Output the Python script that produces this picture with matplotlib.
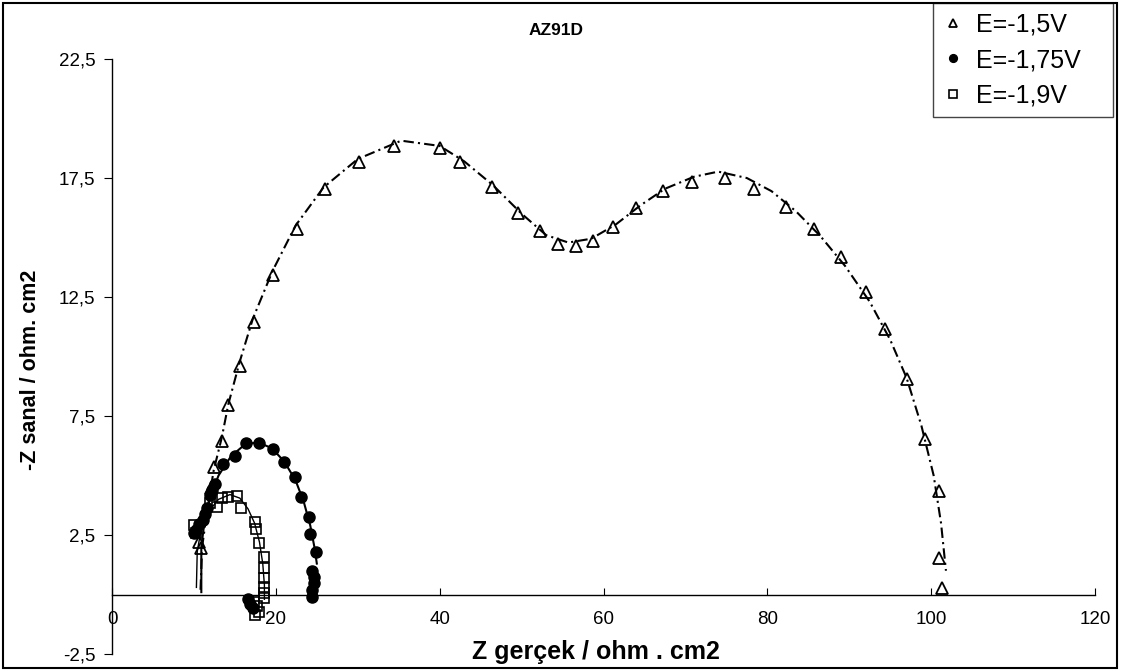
import matplotlib
matplotlib.use('Agg')
import matplotlib.pyplot as plt
from matplotlib.patches import Rectangle
from matplotlib.ticker import FuncFormatter

plt.rcParams['font.family'] = ['Liberation Sans', 'DejaVu Sans']

# measured points, E=-1.5V
z1_re = [10.6, 10.8, 12.1, 12.4, 13.4, 14.2, 15.6, 17.3, 19.7, 22.6, 26.0, 30.1, 34.4,
         40.0, 42.5, 46.4, 49.5, 52.2, 54.4, 56.6, 58.7, 61.2, 64.0, 67.2, 70.8, 74.8,
         78.4, 82.3, 85.7, 89.0, 92.0, 94.4, 97.1, 99.3, 100.9, 101.0, 101.3]
z1_im = [2.2, 1.95, 4.47, 5.35, 6.45, 7.97, 9.62, 11.47, 13.43, 15.35, 17.03, 18.19, 18.86,
         18.78, 18.19, 17.14, 16.02, 15.28, 14.73, 14.66, 14.87, 15.43, 16.23, 16.96, 17.35, 17.52,
         17.03, 16.27, 15.35, 14.2, 12.73, 11.15, 9.05, 6.53, 4.37, 1.55, 0.26]

# measured points, E=-1.75V
z2_re = [10.0, 10.2, 10.6, 11.05, 11.3, 11.6, 11.9, 12.2, 12.6, 13.6, 15.0, 16.4, 17.9,
         19.6, 21.0, 22.3, 23.1, 24.0, 24.2, 24.9, 24.4, 24.65, 24.65, 24.4, 24.4,
         16.6, 16.9, 17.2]
z2_im = [2.57, 2.71, 2.95, 3.13, 3.4, 3.63, 4.18, 4.4, 4.65, 5.49, 5.82, 6.36, 6.36,
         6.1, 5.58, 4.93, 4.11, 3.27, 2.53, 1.78, 0.99, 0.75, 0.5, 0.19, -0.11,
         -0.2, -0.4, -0.55]

# measured points, E=-1.9V
z3_re = [9.96, 10.3, 12.0, 12.8, 13.4, 14.15, 15.2, 15.8, 17.4, 17.6, 18.0, 18.5, 18.6,
         18.6, 18.6, 18.6, 18.5, 17.3, 17.7, 17.9, 17.5]
z3_im = [2.92, 2.6, 3.84, 3.67, 4.05, 4.09, 4.14, 3.63, 3.06, 2.74, 2.18, 1.57, 1.1,
         0.68, 0.33, 0.05, -0.15, -0.3, -0.5, -0.75, -0.85]

# fitted curves
fit1_re = [10.8, 11.0, 11.6, 12.4, 13.4, 14.2, 15.6, 17.2, 19.6, 22.4, 25.8, 30.0, 35.3,
           40.0, 43.0, 46.5, 50.0, 53.0, 55.7, 58.5, 61.5, 64.5, 67.5, 71.0, 74.0, 77.5,
           80.5, 83.5, 86.5, 89.5, 92.5, 95.0, 97.0, 98.8, 100.3, 101.2, 101.8]
fit1_im = [0.2, 2.0, 3.5, 5.2, 6.6, 8.0, 9.8, 11.6, 13.6, 15.5, 17.1, 18.3, 19.07,
           18.85, 18.2, 17.2, 16.0, 15.1, 14.79, 14.95, 15.55, 16.35, 17.05, 17.55, 17.77, 17.5,
           16.95, 16.1, 15.05, 13.8, 12.3, 10.7, 9.1, 7.1, 5.0, 3.0, 1.0]

fit2_re = [10.9, 10.9, 11.3, 12.0, 13.0, 14.5, 16.2, 17.8, 19.5, 21.0, 22.4, 23.4, 24.2, 24.7, 25.0]
fit2_im = [0.1, 2.0, 3.1, 4.1, 5.0, 5.8, 6.3, 6.4, 6.15, 5.6, 4.8, 3.9, 2.9, 2.0, 1.3]

fit3_re = [10.3, 10.4, 10.9, 11.8, 13.0, 14.4, 15.6, 16.6, 17.4, 18.0, 18.4, 18.6, 18.6]
fit3_im = [0.3, 1.8, 2.8, 3.5, 4.0, 4.2, 4.05, 3.6, 3.0, 2.2, 1.3, 0.4, -0.2]

labels = ['E=-1,5V', 'E=-1,75V', 'E=-1,9V']
xticks = [0, 20, 40, 60, 80, 100, 120]
yticks = [-2.5, 2.5, 7.5, 12.5, 17.5, 22.5]

fig = plt.figure(figsize=(11.26, 6.71), dpi=100)
ax = fig.add_axes([0.0995, 0.0253, 0.873, 0.8867])

ax.plot(fit1_re, fit1_im, color='black', lw=1.5, linestyle=(0, (5, 2, 1, 2)))
ax.plot(fit2_re, fit2_im, color='black', lw=1.5)
ax.plot(fit3_re, fit3_im, color='black', lw=1.0)

ax.plot(z1_re, z1_im, '^', ms=8, mfc='none', mec='black', mew=1.3, label=labels[0])
ax.plot(z2_re, z2_im, 'o', ms=8, mfc='black', mec='black', label=labels[1])
ax.plot(z3_re, z3_im, 's', ms=7.5, mfc='none', mec='black', mew=1.2, label=labels[2])

ax.set_xlim(0, 120)
ax.set_ylim(-2.5, 22.5)
ax.set_xticks(xticks)
ax.set_yticks(yticks)
ax.yaxis.set_major_formatter(FuncFormatter(lambda v, p: ('%.1f' % v).replace('.', ',')))

ax.spines['top'].set_visible(False)
ax.spines['right'].set_visible(False)
ax.spines['bottom'].set_position(('data', 0))
ax.spines['bottom'].set_linewidth(1.0)
ax.spines['left'].set_linewidth(1.0)
ax.tick_params(axis='x', direction='in', length=5, pad=12, labelsize=13.5)
ax.tick_params(axis='y', direction='out', length=6, pad=6, labelsize=13.5)

ax.set_xlabel('Z gerçek / ohm . cm2', fontsize=18, fontweight='bold')
ax.xaxis.set_label_coords(0.492, 0.003)
ax.xaxis.label.set_va('center')
ax.set_ylabel('-Z sanal / ohm. cm2', fontsize=15.5, fontweight='bold')
ax.yaxis.set_label_coords(-0.083, 0.477)
ax.yaxis.label.set_va('center')

fig.text(0.494, 0.955, 'AZ91D', ha='center', va='center', fontsize=12.5, fontweight='bold')

leg = ax.legend(loc='upper left', bbox_to_anchor=(0.8286, 0.8286, 0.16, 0.167),
                bbox_transform=fig.transFigure, mode='expand', borderaxespad=0,
                fontsize=18, markerscale=0.7, handlelength=0.8, handletextpad=0.5,
                labelspacing=0.45, fancybox=False, framealpha=1, edgecolor='#444444')
leg.get_frame().set_linewidth(1.0)

fig.patches.append(Rectangle((0.003, 0.005), 0.989, 0.99, transform=fig.transFigure,
                             fill=False, edgecolor='black', lw=1.5))

fig.savefig('out.png', dpi=100)
